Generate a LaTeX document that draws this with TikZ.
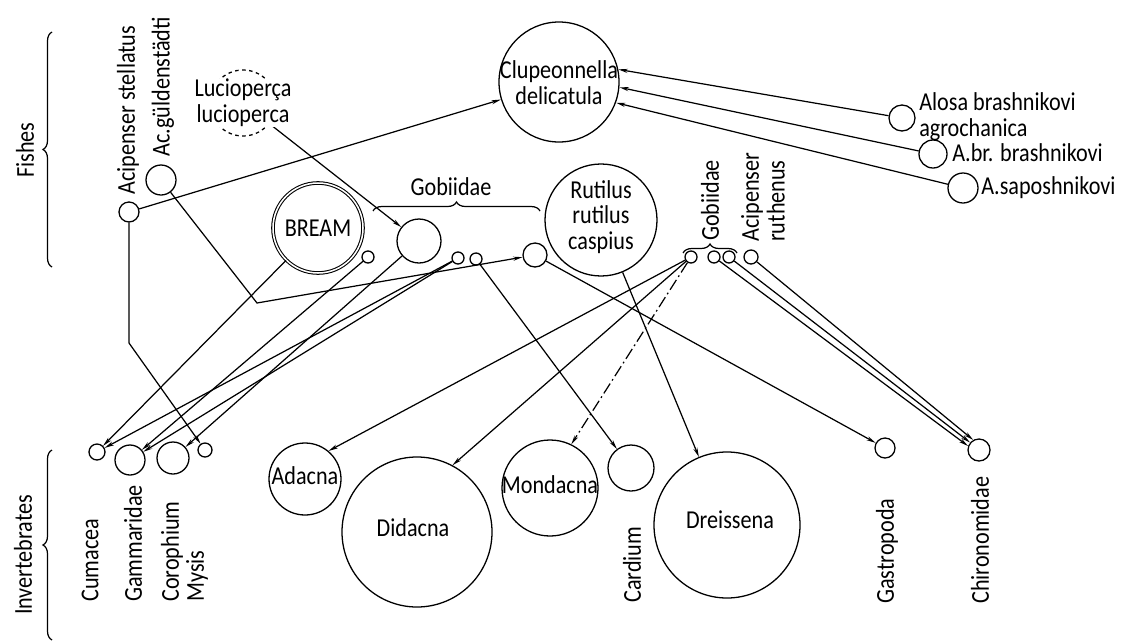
\documentclass[tikz,border=0pt]{standalone}
\usepackage{fontspec}
\setmainfont{Carlito}[FakeStretch=0.86]
\usetikzlibrary{arrows.meta,decorations.pathreplacing}
\begin{document}
\begin{tikzpicture}[x=0.03cm,y=-0.03cm,
  every node/.style={font=\fontsize{22}{22}\selectfont},
  fc/.style={circle,draw,line width=1.1pt,inner sep=0pt,minimum size=#1*0.06cm},
  lbl/.style={inner sep=0pt},
  vlbl/.style={inner sep=0pt,rotate=90,anchor=west},
  arr/.style={line width=1.05pt,-{Stealth[length=8pt,width=3.5pt,fill=black!50]}},
  brc/.style={decorate,decoration={brace,amplitude=0.27cm},line width=1.05pt},
  dashdot/.style={dash pattern=on 10pt off 3pt on 1.5pt off 3pt}
]
\useasboundingbox (0,0) rectangle (1131,643);

% group labels and braces
\node[lbl,rotate=90] (fishesT) at (25,150) {Fishes};
\node[lbl,rotate=90] (invT) at (23,555) {Invertebrates};
\draw[brc] (52,267) -- (52,32);
\draw[brc] (52,640) -- (52,450);

% fishes
\node[fc=10] (stel) at (129,212) {};
\node[vlbl] (stelT) at (128,195) {Acipenser stellatus};
\node[fc=15] (guld) at (161,180) {};
\node[vlbl] (guldT) at (163,157) {Ac.güldenstädti};
\node[fc=33,dashed] (luc) at (243,103) {};
\node[fc=60] (clup) at (559,82) {};
\node[circle,draw,double,double distance=1.3pt,line width=0.9pt,inner sep=0pt,minimum size=90*0.03cm] (bream) at (318,228) {};
\node[fc=6] (smallB) at (368,257) {};
\node[fc=22] (gobBig) at (419,241) {};
\node[fc=6] (gob1) at (458,258) {};
\node[fc=6] (gob2) at (476,259) {};
\node[fc=12] (gob4) at (535,255) {};
\node[fc=56] (rut) at (601,220) {};
\node[fc=6] (gobR1) at (691,257) {};
\node[fc=6] (gobR2) at (714,257) {};
\node[fc=6] (gobR3) at (729,257) {};
\node[fc=7] (acR) at (751,257) {};
\node[fc=13] (alA) at (902,118) {};
\node[fc=14] (alB) at (933,154) {};
\node[fc=15] (alC) at (963,188) {};

\draw[brc] (373,211) -- (540,211);
\draw[brc] (683,253) -- (737,253);

% invertebrates
\node[fc=8] (cum) at (97,452) {};
\node[fc=15] (gamm) at (130,460) {};
\node[fc=16] (coro) at (173,458) {};
\node[fc=7] (mysis) at (205,450) {};
\node[fc=36] (adacna) at (305,479) {};
\node[fc=75] (didacna) at (417,532) {};
\node[fc=48] (mond) at (550,488) {};
\node[fc=23] (card) at (631,468) {};
\node[fc=73] (dreis) at (727,525) {};
\node[fc=10] (gast) at (885,448) {};
\node[fc=11] (chir) at (979,450) {};

% connectors
\coordinate (bA) at (129,343);
\coordinate (bB) at (257,303);
\draw[arr] (stel) -- (clup);
\draw[arr] (stel) -- (bA) -- (mysis);
\draw[arr] (guld) -- (bB) -- (gob4);
\draw[arr] (luc) -- (gobBig);
\draw[arr] (bream) -- (cum);
\draw[arr] (smallB) -- (gamm);
\draw[arr] (gob1) -- (cum);
\draw[arr] (gob1) -- (gamm);
\draw[arr] (gobBig) -- (coro);
\draw[arr] (gob2) -- (card);
\draw[arr] (gob4) -- (gast);
\draw[arr] (rut) -- (dreis);
\draw[arr] (gobR1) -- (adacna.50);
\draw[arr] (gobR1) -- (didacna.62);
\draw[arr,dashdot] (gobR1) -- (mond.64);
\draw[arr] (gobR2) -- (chir.160);
\draw[arr] (gobR3) -- (chir.140);
\draw[arr] (acR) -- (chir.120);
\draw[arr] (alA) -- (clup.12);
\draw[arr] (alB) -- (clup.-5);
\draw[arr] (alC) -- (clup.-20);

% texts
\node[lbl,fill=white,align=center] (lucT) at (243,103) {Lucioperça\\lucioperca};
\node[lbl,align=center] (clupT) at (559,83) {Clupeonnella\\delicatula};
\node[lbl] (breamT) at (318,228) {BREAM};
\node[lbl] (gobT) at (451,187) {Gobiidae};
\node[lbl,align=center] (rutT) at (601,217) {Rutilus\\rutilus\\caspius};
\node[vlbl] (gobRT) at (710,241) {Gobiidae};
\node[vlbl,align=left] (acRT) at (763,242) {Acipenser\\ruthenus};
\node[lbl,anchor=west,align=left] (alAT) at (919,117) {Alosa brashnikovi\\agrochanica};
\node[lbl,anchor=west] (alBT) at (952,153) {A.br. brashnikovi};
\node[lbl,anchor=west] (alCT) at (981,188) {A.saposhnikovi};

\node[vlbl] (cumT) at (90,602) {Cumacea};
\node[vlbl] (gammT) at (133,602) {Gammaridae};
\node[vlbl] (coroT) at (172,602) {Corophium};
\node[vlbl] (mysT) at (197,602) {Mysis};
\node[lbl] (adacnaT) at (305,476) {Adacna};
\node[lbl] (didacnaT) at (413,528) {Didacna};
\node[lbl] (mondT) at (550,485) {Mondacna};
\node[vlbl] (cardT) at (632,603) {Cardium};
\node[lbl] (dreisT) at (730,520) {Dreissena};
\node[vlbl] (gastT) at (887,604) {Gastropoda};
\node[vlbl] (chirT) at (980,604) {Chironomidae};
\end{tikzpicture}
\end{document}
